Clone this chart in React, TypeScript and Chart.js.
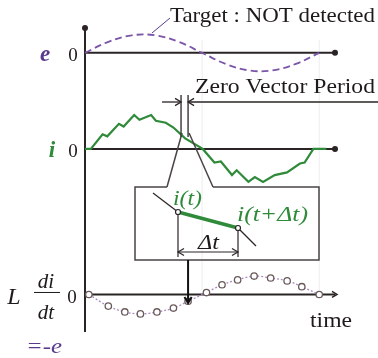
import React, { useEffect, useRef } from "react";
import { Chart, registerables } from "chart.js";

Chart.register(...registerables);

// ---- data (time in ms, values in per-unit amplitude) ----
const eTime = [0, 2, 4, 6, 8, 10, 12, 14, 16, 18, 20];
const eValues = [0, 0.6, 0.95, 0.95, 0.6, 0, -0.6, -0.95, -0.95, -0.6, 0];

const iTime = [0, 0.5, 1.5, 1.9, 2.9, 3.3, 4.2, 4.65, 5.65, 6.05, 6.9, 7.55, 8.55, 10.05, 11.05, 11.6, 12.55, 12.95, 13.95, 14.5, 15.2, 16.2, 17.25, 18.35, 18.75, 19.5, 20.6];
const iValues = [0, 0, 0.43, 0.37, 0.74, 0.66, 1.0, 0.86, 1.0, 0.83, 0.77, 0.63, 0.31, 0, -0.4, -0.37, -0.77, -0.63, -0.97, -0.83, -0.97, -0.77, -0.69, -0.43, -0.4, 0, 0];

const lTime = [0.33, 1.99, 3.4, 4.73, 6.14, 7.55, 8.8, 10.37, 11.7, 13.03, 14.44, 15.85, 17.26, 18.51, 20.0];
const lValues = [0, -0.6, -0.9, -1.0, -0.9, -0.7, -0.35, 0.1, 0.5, 0.75, 0.95, 0.85, 0.7, 0.4, 0];

const zeroVectorStart = 8.2;
const zeroVectorEnd = 8.8;

const labelTarget = "Target : NOT detected";
const labelZero = "Zero Vector Period";
const labelTime = "time";

const PURPLE = "#5b3a8c";
const GREEN = "#2f8a3a";
const DARK = "#2a2424";
const SERIF = '"Liberation Serif", "DejaVu Serif", serif';

function arrowHead(ctx: CanvasRenderingContext2D, x: number, y: number, dir: "l" | "r" | "d", size = 6) {
  ctx.beginPath();
  if (dir === "r") {
    ctx.moveTo(x - size, y - size * 0.6);
    ctx.lineTo(x, y);
    ctx.lineTo(x - size, y + size * 0.6);
  } else if (dir === "l") {
    ctx.moveTo(x + size, y - size * 0.6);
    ctx.lineTo(x, y);
    ctx.lineTo(x + size, y + size * 0.6);
  } else {
    ctx.moveTo(x - size * 0.6, y - size);
    ctx.lineTo(x, y);
    ctx.lineTo(x + size * 0.6, y - size);
  }
  ctx.stroke();
}

function line(ctx: CanvasRenderingContext2D, pts: number[][]) {
  ctx.beginPath();
  ctx.moveTo(pts[0][0], pts[0][1]);
  for (let k = 1; k < pts.length; k++) ctx.lineTo(pts[k][0], pts[k][1]);
  ctx.stroke();
}

function dot(ctx: CanvasRenderingContext2D, x: number, y: number, r: number, fill: string, stroke?: string) {
  ctx.beginPath();
  ctx.arc(x, y, r, 0, Math.PI * 2);
  ctx.fillStyle = fill;
  ctx.fill();
  if (stroke) {
    ctx.strokeStyle = stroke;
    ctx.lineWidth = 1.2;
    ctx.stroke();
  }
}

// draw left-aligned text stretched horizontally to a given width
function textFit(ctx: CanvasRenderingContext2D, text: string, x: number, y: number, width: number) {
  const w = ctx.measureText(text).width;
  ctx.save();
  ctx.textAlign = "left";
  ctx.translate(x, y);
  ctx.scale(width / w, 1);
  ctx.fillText(text, 0, 0);
  ctx.restore();
}

const axesPlugin = {
  id: "axesPlugin",
  beforeDatasetsDraw(chart: any) {
    const ctx = chart.ctx as CanvasRenderingContext2D;
    const X = (t: number) => chart.scales.x.getPixelForValue(t);
    const yE = chart.scales.yE.getPixelForValue(0);
    const yI = chart.scales.yI.getPixelForValue(0);
    const yL = chart.scales.yL.getPixelForValue(0);
    const x0 = X(0);
    ctx.save();
    ctx.strokeStyle = "rgba(0,0,0,0.07)";
    ctx.lineWidth = 1;
    line(ctx, [[X(10), 40], [X(10), 290]]);
    line(ctx, [[X(20), 40], [X(20), 290]]);
    ctx.strokeStyle = DARK;
    ctx.lineWidth = 2;
    line(ctx, [[x0, 28], [x0, 332]]);
    dot(ctx, x0, 28, 3, DARK);
    line(ctx, [[x0, yE], [335, yE]]);
    dot(ctx, 335, yE, 3, DARK);
    line(ctx, [[x0, yI], [335, yI]]);
    dot(ctx, 335, yI, 3, DARK);
    line(ctx, [[x0, yL], [335, yL]]);
    ctx.lineWidth = 1.5;
    arrowHead(ctx, 337, yL, "r", 5);
    ctx.restore();
  },
  afterDatasetsDraw(chart: any) {
    const ctx = chart.ctx as CanvasRenderingContext2D;
    const X = (t: number) => chart.scales.x.getPixelForValue(t);
    const yE = chart.scales.yE.getPixelForValue(0);
    const yI = chart.scales.yI.getPixelForValue(0);
    const yL = chart.scales.yL.getPixelForValue(0);
    const zs = X(zeroVectorStart);
    const ze = X(zeroVectorEnd);
    ctx.save();
    ctx.textBaseline = "alphabetic";

    // Target label + leader
    ctx.strokeStyle = PURPLE;
    ctx.lineWidth = 1;
    line(ctx, [[152, 33], [170, 18]]);
    ctx.fillStyle = "#1e1a1a";
    ctx.font = `22px ${SERIF}`;
    textFit(ctx, labelTarget, 170, 22, 205);

    // Zero vector period
    textFit(ctx, labelZero, 195, 93, 180);
    ctx.strokeStyle = DARK;
    ctx.lineWidth = 1.3;
    line(ctx, [[zs, 95], [zs, 137]]);
    line(ctx, [[ze, 95], [ze, 137]]);
    line(ctx, [[162, 102], [zs, 102]]);
    arrowHead(ctx, zs, 102, "r", 6);
    line(ctx, [[378, 102], [ze, 102]]);
    arrowHead(ctx, ze, 102, "l", 6);

    // callout wedge + box
    ctx.strokeStyle = "#4a4444";
    ctx.lineWidth = 1.5;
    line(ctx, [[zs + 1, 133], [167, 187]]);
    line(ctx, [[ze + 1, 133], [213, 187]]);
    line(ctx, [[167, 187], [135, 187], [135, 260], [319, 260], [319, 187], [213, 187]]);

    // inset detail
    ctx.strokeStyle = DARK;
    ctx.lineWidth = 1.2;
    line(ctx, [[153, 193], [178, 212]]);
    line(ctx, [[238, 228], [256, 246]]);
    ctx.strokeStyle = GREEN;
    ctx.lineWidth = 3.5;
    line(ctx, [[178, 212], [238, 228]]);
    ctx.strokeStyle = DARK;
    ctx.lineWidth = 1.2;
    line(ctx, [[178, 212], [178, 257]]);
    line(ctx, [[238, 228], [238, 257]]);
    line(ctx, [[178, 252], [238, 252]]);
    arrowHead(ctx, 178, 252, "l", 6);
    arrowHead(ctx, 238, 252, "r", 6);
    dot(ctx, 178, 212, 2.5, "#fff", DARK);
    dot(ctx, 238, 228, 2.5, "#fff", DARK);

    ctx.fillStyle = GREEN;
    ctx.font = `italic 22px ${SERIF}`;
    textFit(ctx, "i(t)", 173, 205, 29);
    textFit(ctx, "i(t+Δt)", 237, 221, 71);
    ctx.fillStyle = "#1e1a1a";
    ctx.font = `italic 21px ${SERIF}`;
    textFit(ctx, "Δt", 198, 249, 21);

    // down arrow
    ctx.strokeStyle = "#111";
    ctx.lineWidth = 2;
    line(ctx, [[ze, 260], [ze, 302]]);
    arrowHead(ctx, ze, 303, "d", 6);

    // left labels
    ctx.textAlign = "center";
    ctx.fillStyle = PURPLE;
    ctx.font = `bold italic 23px ${SERIF}`;
    ctx.fillText("e", 45, yE + 8);
    ctx.fillStyle = GREEN;
    ctx.fillText("i", 52, yI + 8);
    ctx.fillStyle = "#1e1a1a";
    ctx.font = `19px ${SERIF}`;
    ctx.fillText("0", 73, yE + 8);
    ctx.fillText("0", 73, yI + 8);
    ctx.fillText("0", 72, yL + 9);

    ctx.font = `italic 24px ${SERIF}`;
    ctx.fillText("L", 14, yL + 10);
    ctx.font = `italic 21px ${SERIF}`;
    ctx.fillText("di", 46, yL - 6);
    ctx.fillText("dt", 46, yL + 25);
    ctx.strokeStyle = "#1e1a1a";
    ctx.lineWidth = 1;
    line(ctx, [[34, yL - 2], [60, yL - 2]]);
    ctx.fillStyle = PURPLE;
    ctx.font = `italic 22px ${SERIF}`;
    textFit(ctx, "=-e", 26, 353, 36);

    ctx.fillStyle = "#1e1a1a";
    ctx.font = `22px ${SERIF}`;
    textFit(ctx, labelTime, 310, 327, 42);

    ctx.restore();
  },
};

export default function App() {
  const ref = useRef<HTMLCanvasElement | null>(null);
  useEffect(() => {
    if (!ref.current) return;
    const chart = new Chart(ref.current, {
      type: "line",
      data: {
        datasets: [
          {
            label: "e",
            data: eTime.map((t, k) => ({ x: t, y: eValues[k] })),
            yAxisID: "yE",
            borderColor: "#7a55a8",
            borderWidth: 1.8,
            borderDash: [7, 4],
            pointRadius: 0,
            tension: 0.4,
            fill: false,
          },
          {
            label: "i",
            data: iTime.map((t, k) => ({ x: t, y: iValues[k] })),
            yAxisID: "yI",
            borderColor: GREEN,
            borderWidth: 2.2,
            pointRadius: 0,
            tension: 0,
            fill: false,
          },
          {
            label: "L di/dt",
            data: lTime.map((t, k) => ({ x: t, y: lValues[k] })),
            yAxisID: "yL",
            borderColor: "#a88ac0",
            borderWidth: 1.3,
            borderDash: [2, 2],
            pointRadius: 3.2,
            pointBackgroundColor: "#ffffff",
            pointBorderColor: "#6a5a5a",
            pointBorderWidth: 1.3,
            tension: 0.4,
            fill: false,
          },
        ],
      },
      options: {
        animation: false,
        responsive: false,
        devicePixelRatio: 1,
        layout: { padding: 0 },
        plugins: { legend: { display: false }, tooltip: { enabled: false }, title: { display: false } },
        events: [],
        scales: {
          x: { type: "linear", display: false, min: -82 / 12.05, max: (378 - 82) / 12.05, bounds: "data" },
          yE: { type: "linear", display: false, min: -309 / 19, max: 49 / 19, bounds: "data" },
          yI: { type: "linear", display: false, min: -210 / 35, max: 148 / 35, bounds: "data" },
          yL: { type: "linear", display: false, min: -60 / 20, max: 298 / 20, bounds: "data" },
        },
      },
      plugins: [axesPlugin],
    });
    return () => chart.destroy();
  }, []);
  return (
    <div style={{ position: "absolute", left: 0, top: 0, width: 378, height: 358, background: "#fff" }}>
      <canvas ref={ref} width={378} height={358} style={{ display: "block" }} />
    </div>
  );
}
